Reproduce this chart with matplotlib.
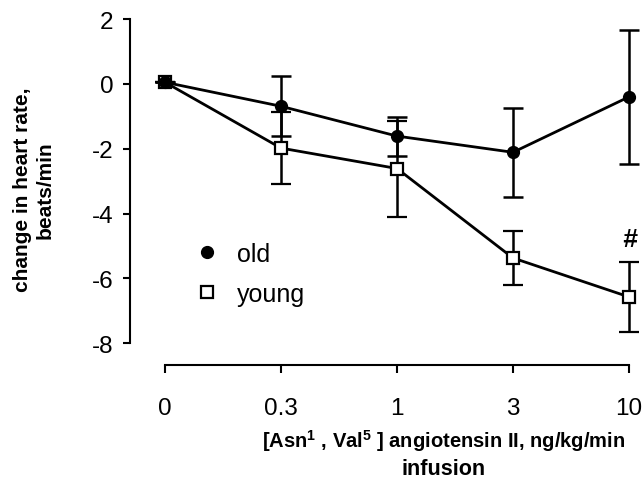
import numpy as np
import matplotlib
matplotlib.use("Agg")
import matplotlib.pyplot as plt
from matplotlib.lines import Line2D

plt.rcParams['font.family'] = ['Liberation Sans', 'DejaVu Sans']
plt.rcParams['mathtext.fontset'] = 'custom'
plt.rcParams['mathtext.rm'] = 'Liberation Sans'
plt.rcParams['mathtext.bf'] = 'Liberation Sans:bold'
plt.rcParams['axes.unicode_minus'] = False

# datos
doses = ["0", "0.3", "1", "3", "10"]
old_mean = [0.05, -0.69, -1.61, -2.11, -0.40]
old_err = [0.0, 0.93, 0.60, 1.38, 2.07]
young_mean = [0.05, -1.98, -2.61, -5.37, -6.57]
young_err = [0.0, 1.10, 1.48, 0.84, 1.08]

x = np.arange(len(doses))

fig = plt.figure(figsize=(6.42, 4.89), dpi=100)
ax = fig.add_axes([130/642, 1-366/489, 510/642, 356/489])

ax.errorbar(x, young_mean, yerr=young_err, color='black', lw=2.0,
            marker='s', ms=8, mfc='white', mec='black', mew=1.6,
            capsize=7, capthick=1.8, elinewidth=1.8, zorder=2)
ax.errorbar(x, old_mean, yerr=old_err, color='black', lw=2.0,
            marker='o', ms=8.5, mfc='black', mec='black',
            capsize=7, capthick=1.8, elinewidth=1.8, zorder=3)

# simbolo de significancia
ax.text(x[-1], -4.78, "#", fontsize=19, fontweight='bold', style='italic',
        ha='center', va='center')

ax.set_xlim(-0.302, 4.095)
ax.set_ylim(-8.67, 2.31)

ax.spines['top'].set_visible(False)
ax.spines['right'].set_visible(False)
ax.spines['left'].set_bounds(-8, 2)
ax.spines['bottom'].set_bounds(0, 4)
ax.spines['left'].set_linewidth(1.5)
ax.spines['bottom'].set_linewidth(1.5)

ax.set_xticks(x)
ax.set_xticklabels(doses)
ax.set_yticks([2, 0, -2, -4, -6, -8])
ax.tick_params(axis='y', length=5, width=1.5, pad=7, labelsize=17.5)
ax.tick_params(axis='x', length=6, width=1.5, pad=17, labelsize=17.5)

handles = [Line2D([], [], ls='none', marker='o', ms=8.5, mfc='black', mec='black'),
           Line2D([], [], ls='none', marker='s', ms=8, mfc='white', mec='black', mew=1.6)]
ax.legend(handles, ["old", "young"], loc='upper left', bbox_to_anchor=(0.106, 0.38),
          frameon=False, fontsize=18, borderpad=0, handlelength=0.8,
          handletextpad=0.8, labelspacing=0.62)

fig.text(34/642, 1-190/489, "change in heart rate,\nbeats/min", rotation=90,
         ha='center', va='center', fontsize=15, fontweight='bold',
         multialignment='center')
fig.text(444/642, 1-441/489,
         r"[Asn$^{\mathbf{1}}$ , Val$^{\mathbf{5}}$ ] angiotensin II, ng/kg/min",
         ha='center', va='center', fontsize=14.5, fontweight='bold')
fig.text(444/642, 1-470/489, "infusion", ha='center', va='center',
         fontsize=15.5, fontweight='bold')

fig.savefig("out.png", dpi=100)
